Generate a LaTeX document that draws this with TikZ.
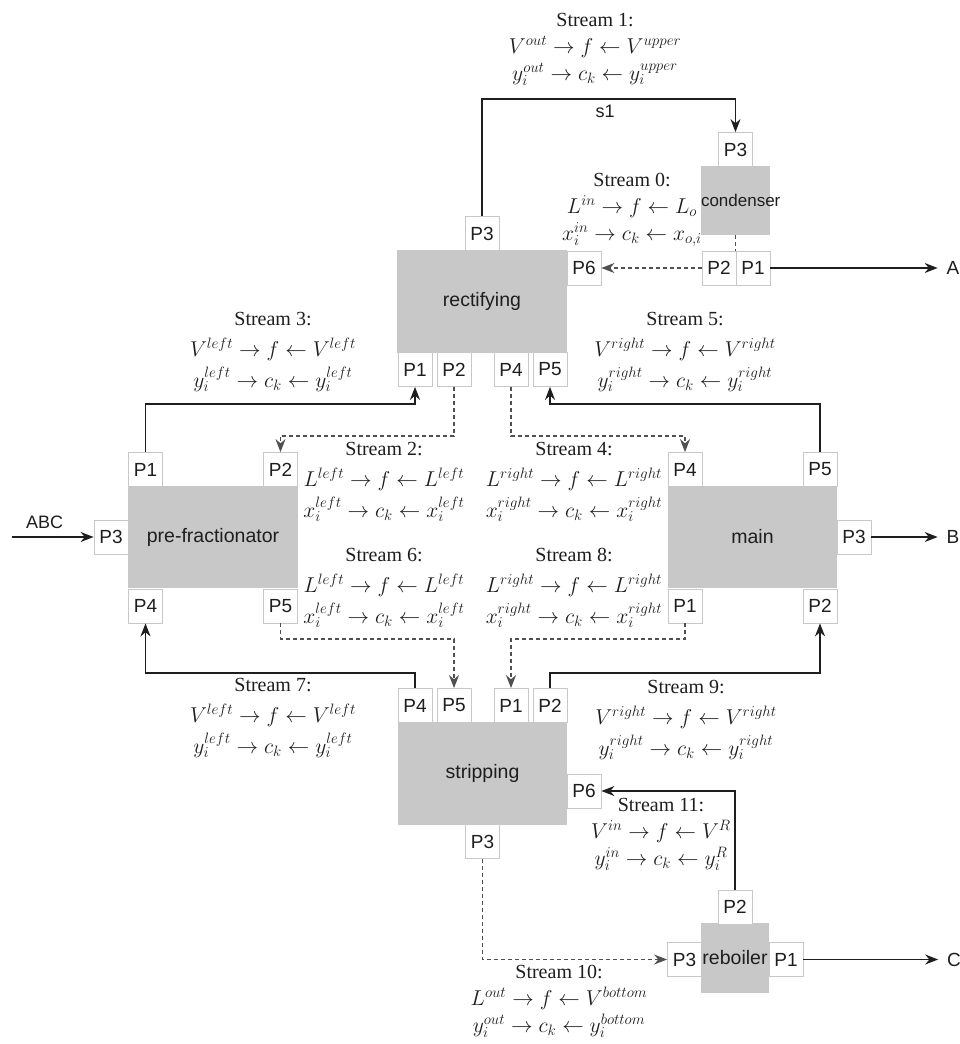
\RequirePackage{fix-cm}
\documentclass[tikz,border=0pt]{standalone}
\usepackage{fontspec}
\setmainfont{Liberation Serif}
\setsansfont{Liberation Sans}
\usetikzlibrary{arrows.meta}
\definecolor{blockgray}{RGB}{200,200,200}
\definecolor{portline}{RGB}{200,200,200}
\definecolor{ink}{RGB}{30,30,30}
\definecolor{dashink}{RGB}{80,80,80}
\newcommand{\ml}[1]{{\fontsize{21.5}{29}\selectfont$#1$}}
\tikzset{
  block/.style={fill=blockgray, draw=none, inner sep=0pt, font=\sffamily\fontsize{19.5}{22}\selectfont, text=ink},
  port/.style={draw=portline, line width=0.8pt, fill=white, minimum width=34pt, minimum height=34pt, inner sep=0pt, font=\sffamily\fontsize{19}{22}\selectfont, text=ink},
  stream/.style={align=center, inner sep=0pt, anchor=north, font=\fontsize{20}{31}\selectfont, text=ink},
  tight/.style={font=\fontsize{20}{27}\selectfont},
  flow/.style={draw=ink, line width=1.6pt, -{Stealth[length=13pt,width=10pt]}},
  dflow/.style={draw=dashink, line width=1.5pt, dash pattern=on 4pt off 3pt, -{Stealth[length=13pt,width=10pt]}},
  dlink/.style={draw=dashink, line width=1.5pt, dash pattern=on 4pt off 3pt},
  term/.style={font=\sffamily\fontsize{19}{22}\selectfont, text=ink, inner sep=0pt, outer xsep=9pt},
  lbl/.style={font=\sffamily\fontsize{18}{20}\selectfont, text=ink, inner sep=0pt},
}
\begin{document}
\begin{tikzpicture}[x=1pt,y=-1pt]
\fill[white] (0,0) rectangle (960,1044);
\useasboundingbox (0,0) rectangle (960,1044);

% blocks
\node[block, minimum width=170pt, minimum height=103pt] (rect) at (482,301.5) {rectifying};
\node[block, minimum height=69pt, text width=69pt, align=center, font=\sffamily\fontsize{17}{18}\selectfont] (cond) at (735.5,200.5) {condenser};
\node[block, minimum width=170pt, minimum height=102pt] (pre) at (213,537) {pre-fractionator};
\node[block, minimum width=169pt, minimum height=102pt] (main) at (752.5,537) {main};
\node[block, minimum width=169pt, minimum height=103pt] (strip) at (482.5,773.5) {stripping};
\node[block, minimum width=68pt, minimum height=70pt] (reb) at (735,958) {reboiler};

% ports
\node[port] (rP3) at (482,233.5) {P3};
\node[port] (rP6) at (584,268) {P6};
\node[port] (rP1) at (415,369.5) {P1};
\node[port] (rP2) at (454,369.5) {P2};
\node[port] (rP4) at (511,369.5) {P4};
\node[port] (rP5) at (550,369.5) {P5};
\node[port] (cP3) at (735.5,149.5) {P3};
\node[port] (cP2) at (719,268) {P2};
\node[port] (cP1) at (753,268) {P1};
\node[port] (pP1) at (145.5,469.5) {P1};
\node[port] (pP2) at (280.5,469.5) {P2};
\node[port] (pP3) at (111,537) {P3};
\node[port] (pP4) at (145.5,606) {P4};
\node[port] (pP5) at (280.5,606) {P5};
\node[port] (mP4) at (685,469.5) {P4};
\node[port] (mP5) at (820,469.5) {P5};
\node[port] (mP3) at (854,537) {P3};
\node[port] (mP1) at (685,606) {P1};
\node[port] (mP2) at (820,606) {P2};
\node[port] (sP4) at (415,705.5) {P4};
\node[port] (sP5) at (454,705.5) {P5};
\node[port] (sP1) at (511,705.5) {P1};
\node[port] (sP2) at (550,705.5) {P2};
\node[port] (sP6) at (584,791) {P6};
\node[port] (sP3) at (482.5,841.5) {P3};
\node[port] (bP2) at (735,907) {P2};
\node[port] (bP3) at (684.5,959.5) {P3};
\node[port] (bP1) at (786,959.5) {P1};

% terminals
\node[term] (A) at (953,268) {A};
\node[term] (B) at (953,537) {B};
\node[term] (C) at (954,959.5) {C};
\coordinate (abc) at (12,537);

% connectors
\draw[flow] (rP3.north) -- (rP3.north |- 0,99) -| (cP3.north);
\node[lbl] (s1) at (605,111) {s1};
\draw[dflow] (cP2.west) -- (rP6.east);
\draw[dlink] (cond.south) -- (cond.south |- cP1.north);
\draw[flow] (cP1.east) -- (A.west);
\draw[flow] (pP1.north) -- (pP1.north |- 0,404) -| (rP1.south);
\draw[flow] (mP5.north) -- (mP5.north |- 0,404) -| (rP5.south);
\draw[dflow] (rP2.south) -- (rP2.south |- 0,436) -| (pP2.north);
\draw[dflow] (rP4.south) -- (rP4.south |- 0,436) -| (mP4.north);
\draw[dflow] (pP5.south) -- (pP5.south |- 0,639) -| (sP5.north);
\draw[dflow] (mP1.south) -- (mP1.south |- 0,639) -| (sP1.north);
\draw[flow] (sP4.north) -- (sP4.north |- 0,673) -| (pP4.south);
\draw[flow] (sP2.north) -- (sP2.north |- 0,673) -| (mP2.south);
\draw[flow] (bP2.north) |- (sP6.east);
\draw[dflow] (sP3.south) |- (bP3.west);
\draw[flow] (bP1.east) -- (C.west);
\draw[flow] (mP3.east) -- (B.west);
\draw[flow] (abc) -- node[lbl, pos=0.4, above=8pt] {ABC} (pP3.west);

% stream texts
\node[stream, tight] (t1) at (595,13) {Stream 1:\\ \ml{V^{out}\rightarrow f\leftarrow V^{upper}}\\ \ml{y_i^{out}\rightarrow c_k\leftarrow y_i^{upper}}};
\node[stream, tight] (t0) at (632,173) {Stream 0:\\ \ml{L^{in}\rightarrow f\leftarrow L_o}\\ \ml{x_i^{in}\rightarrow c_k\leftarrow x_{o,i}}};
\node[stream] (t3) at (273,312) {Stream 3:\\ \ml{V^{left}\rightarrow f\leftarrow V^{left}}\\ \ml{y_i^{left}\rightarrow c_k\leftarrow y_i^{left}}};
\node[stream] (t5) at (685,312) {Stream 5:\\ \ml{V^{right}\rightarrow f\leftarrow V^{right}}\\ \ml{y_i^{right}\rightarrow c_k\leftarrow y_i^{right}}};
\node[stream] (t2) at (384,442) {Stream 2:\\ \ml{L^{left}\rightarrow f\leftarrow L^{left}}\\ \ml{x_i^{left}\rightarrow c_k\leftarrow x_i^{left}}};
\node[stream] (t4) at (574,442) {Stream 4:\\ \ml{L^{right}\rightarrow f\leftarrow L^{right}}\\ \ml{x_i^{right}\rightarrow c_k\leftarrow x_i^{right}}};
\node[stream] (t6) at (384,548) {Stream 6:\\ \ml{L^{left}\rightarrow f\leftarrow L^{left}}\\ \ml{x_i^{left}\rightarrow c_k\leftarrow x_i^{left}}};
\node[stream] (t8) at (574,548) {Stream 8:\\ \ml{L^{right}\rightarrow f\leftarrow L^{right}}\\ \ml{x_i^{right}\rightarrow c_k\leftarrow x_i^{right}}};
\node[stream] (t7) at (273,678) {Stream 7:\\ \ml{V^{left}\rightarrow f\leftarrow V^{left}}\\ \ml{y_i^{left}\rightarrow c_k\leftarrow y_i^{left}}};
\node[stream] (t9) at (686,680) {Stream 9:\\ \ml{V^{right}\rightarrow f\leftarrow V^{right}}\\ \ml{y_i^{right}\rightarrow c_k\leftarrow y_i^{right}}};
\node[stream, tight] (t11) at (661,798) {Stream 11:\\ \ml{V^{in}\rightarrow f\leftarrow V^{R}}\\ \ml{y_i^{in}\rightarrow c_k\leftarrow y_i^{R}}};
\node[stream, tight] (t10) at (559,965) {Stream 10:\\ \ml{L^{out}\rightarrow f\leftarrow V^{bottom}}\\ \ml{y_i^{out}\rightarrow c_k\leftarrow y_i^{bottom}}};
\end{tikzpicture}
\end{document}
